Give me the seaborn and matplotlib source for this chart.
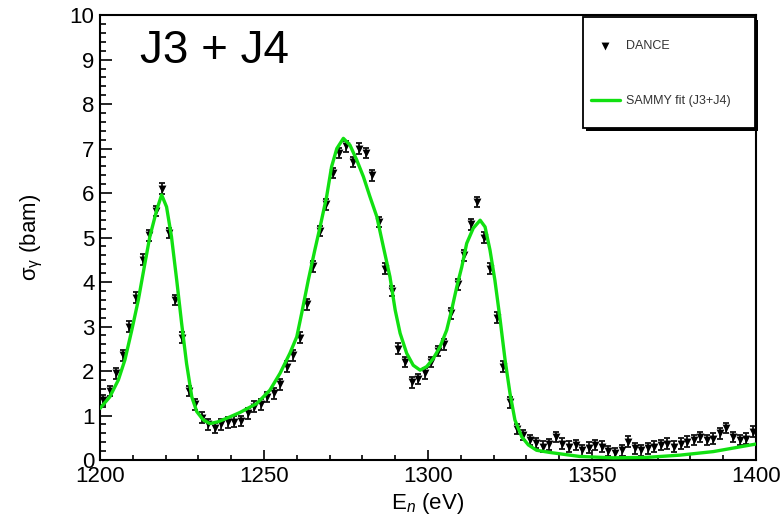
import matplotlib
matplotlib.use("Agg")
import matplotlib.pyplot as plt
import numpy as np
import pandas as pd
import seaborn as sns
from matplotlib.patches import Rectangle
from matplotlib.ticker import MultipleLocator

sns.set_theme(style="ticks")
plt.rcParams["font.family"] = ["Liberation Sans", "DejaVu Sans"]
plt.rcParams["mathtext.fontset"] = "custom"
plt.rcParams["mathtext.rm"] = "Liberation Sans"
plt.rcParams["mathtext.it"] = "Liberation Sans:italic"

# DANCE data (2 eV bins)
energy = np.arange(1201, 1400, 2)
sigma = [1.35, 1.55, 1.95, 2.35, 3.0, 3.65, 4.5, 5.05, 5.6, 6.1,
         5.1, 3.6, 2.75, 1.55, 1.25, 0.95, 0.8, 0.72, 0.8, 0.85,
         0.86, 0.88, 1.05, 1.2, 1.25, 1.42, 1.5, 1.7, 2.1, 2.35,
         2.75, 3.5, 4.35, 5.15, 5.75, 6.45, 6.9, 7.05, 6.7, 7.0,
         6.9, 6.4, 5.35, 4.3, 3.8, 2.5, 2.2, 1.75, 1.82, 1.95,
         2.2, 2.45, 2.6, 3.3, 3.95, 4.6, 5.3, 5.8, 5.0, 4.3,
         3.2, 2.1, 1.3, 0.7, 0.56, 0.45, 0.38, 0.3, 0.35, 0.52,
         0.37, 0.3, 0.34, 0.22, 0.28, 0.34, 0.3, 0.2, 0.15, 0.22,
         0.41, 0.26, 0.22, 0.26, 0.3, 0.34, 0.37, 0.3, 0.37, 0.41,
         0.45, 0.52, 0.45, 0.48, 0.6, 0.72, 0.52, 0.45, 0.48, 0.64]
sigma_err = 0.12

# SAMMY fit curve
fit_energy = [1200, 1203, 1205.6, 1207.6, 1209.7, 1211.7, 1213.7, 1215.2, 1217.3, 1218.8,
              1220.3, 1221.8, 1223.4, 1224.9, 1226.4, 1228, 1229.5, 1231.5, 1233.5, 1236,
              1239, 1242.7, 1247.8, 1251.8, 1254.9, 1257.9, 1260, 1261.5, 1263.5, 1265.5,
              1267.1, 1269.1, 1270.6, 1272.2, 1274.2, 1276.2, 1278.3, 1280.3, 1282.3, 1284.4,
              1286.4, 1288.4, 1290, 1291.5, 1293.5, 1295.5, 1297.6, 1299.6, 1301.6, 1303.7,
              1305.7, 1307.2, 1308.8, 1310.3, 1311.8, 1313.8, 1315.9, 1317.4, 1318.9, 1320.4,
              1322, 1323.5, 1325, 1326.5, 1328.6, 1330.6, 1333.1, 1337.2, 1346.3, 1356.5,
              1366.7, 1376.8, 1387, 1400]
fit_sigma = [1.16, 1.42, 1.80, 2.25, 2.92, 3.6, 4.42, 5.02, 5.62, 5.96,
             5.69, 5.02, 4.04, 3.07, 2.17, 1.42, 1.09, 0.90, 0.82, 0.86,
             0.95, 1.07, 1.27, 1.57, 1.95, 2.40, 2.77, 3.30, 4.04, 4.72,
             5.24, 5.92, 6.59, 7.0, 7.23, 7.08, 6.74, 6.37, 5.92, 5.47,
             4.79, 4.12, 3.37, 2.85, 2.40, 2.13, 2.02, 2.10, 2.28, 2.55,
             2.92, 3.37, 3.90, 4.34, 4.87, 5.21, 5.39, 5.24, 4.72, 4.04,
             3.15, 2.25, 1.50, 0.90, 0.52, 0.34, 0.22, 0.17, 0.08, 0.05,
             0.06, 0.11, 0.19, 0.36]

dance = pd.DataFrame({"E": energy, "sigma": sigma})
fit = pd.DataFrame({"E": fit_energy, "sigma": fit_sigma})

W, H = 781, 521
fig = plt.figure(figsize=(W / 100, H / 100), dpi=100)
ax = fig.add_axes([0.128, 0.117, 0.840, 0.854])

ax.errorbar(dance["E"], dance["sigma"], yerr=sigma_err, fmt="none", ecolor="#111111",
            elinewidth=1.3, capsize=2.5, capthick=1.3, zorder=2)
sns.scatterplot(data=dance, x="E", y="sigma", marker="v", color="black", s=32,
                linewidth=0, ax=ax, label="DANCE", zorder=3)
sns.lineplot(data=fit, x="E", y="sigma", color="#11e011", linewidth=2.4, ax=ax,
             label="SAMMY fit (J3+J4)", zorder=4)

ax.set_xlim(1200, 1400)
ax.set_ylim(0, 10)
ax.xaxis.set_major_locator(MultipleLocator(50))
ax.xaxis.set_minor_locator(MultipleLocator(10))
ax.yaxis.set_major_locator(MultipleLocator(1))
ax.yaxis.set_minor_locator(MultipleLocator(0.2))
ax.tick_params(axis="both", which="both", direction="in", top=False, right=False,
               colors="black", labelsize=16, width=1.2)
ax.tick_params(axis="y", which="major", length=8.5, pad=4)
ax.tick_params(axis="y", which="minor", length=4.5)
ax.tick_params(axis="x", which="major", length=7, pad=4)
ax.tick_params(axis="x", which="minor", length=3.5)
for s in ax.spines.values():
    s.set_color("black")
    s.set_linewidth(1.5)

ax.set_xlabel(r"E$_{n}$ (eV)", fontsize=16, color="black", labelpad=3)
ax.set_ylabel(r"$\mathrm{\sigma_{\gamma}}$ (bam)", fontsize=16, color="black", labelpad=18)

ax.text(0.061, 0.92, "J3 + J4", transform=ax.transAxes, fontsize=33, va="center",
        ha="left", color="black")

# legend box with ROOT-like shadow
bx0, by0, bx1, by1 = 583, 17, 755, 128
fig.patches.append(Rectangle(((bx0 + 3) / W, 1 - (by1 + 3) / H), (bx1 - bx0) / W, (by1 - by0) / H,
                             transform=fig.transFigure, facecolor="black", edgecolor="none", zorder=5))
fig.patches.append(Rectangle((bx0 / W, 1 - by1 / H), (bx1 - bx0) / W, (by1 - by0) / H,
                             transform=fig.transFigure, facecolor="white", edgecolor="black",
                             linewidth=1.3, zorder=6))

leg = ax.legend(loc="upper left", bbox_to_anchor=(591 / W, 1 - 40 / H),
                bbox_transform=fig.transFigure, frameon=False, fontsize=9,
                labelspacing=3.45, borderpad=0, handlelength=2.3, handletextpad=0.5,
                borderaxespad=0)
leg.set_zorder(7)
leg.remove()
fig.legends.append(leg)
leg.set_figure(fig)
for t in leg.get_texts():
    t.set_color("#333333")

fig.savefig("out.png", dpi=100)
